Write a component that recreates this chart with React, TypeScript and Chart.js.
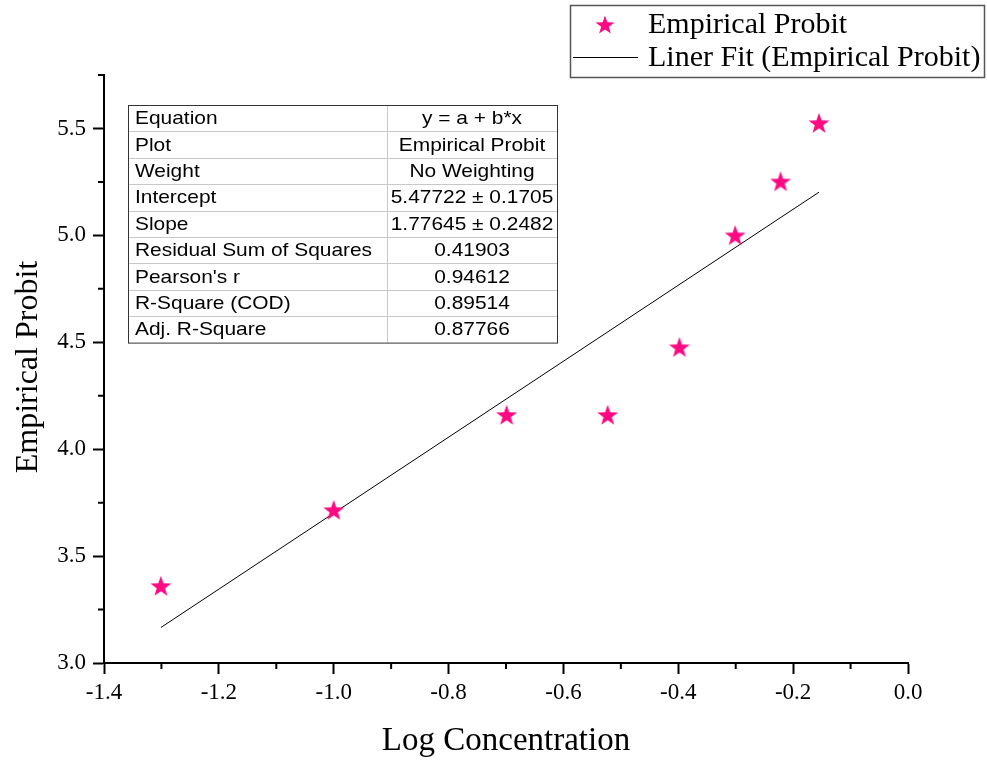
import React, { useEffect, useRef } from 'react';
import { Chart, registerables } from 'chart.js';

Chart.register(...registerables);

const logConcentration = [-1.301, -1.0, -0.699, -0.523, -0.398, -0.301, -0.222, -0.155];
const empiricalProbit = [3.36, 3.715, 4.16, 4.16, 4.477, 5.0, 5.252, 5.525];

const fitX = [-1.301, -0.155];
const fitY = [3.166, 5.202];

const xTicks = [-1.4, -1.2, -1.0, -0.8, -0.6, -0.4, -0.2, 0.0];
const yTicks = [3.0, 3.5, 4.0, 4.5, 5.0, 5.5];
const xMinorTicks = [-1.3, -1.1, -0.9, -0.7, -0.5, -0.3, -0.1];
const yMinorTicks = [3.25, 3.75, 4.25, 4.75, 5.25, 5.75];

const tableLabels = [
  'Equation',
  'Plot',
  'Weight',
  'Intercept',
  'Slope',
  'Residual Sum of Squares',
  "Pearson's r",
  'R-Square (COD)',
  'Adj. R-Square',
];
const tableValues = [
  'y = a + b*x',
  'Empirical Probit',
  'No Weighting',
  '5.47722 ± 0.1705',
  '1.77645 ± 0.2482',
  '0.41903',
  '0.94612',
  '0.89514',
  '0.87766',
];

const legendLabels = ['Empirical Probit', 'Liner Fit (Empirical Probit)'];
const xTitle = 'Log Concentration';
const yTitle = 'Empirical Probit';

const STAR_COLOR = '#FF0A82';
const SERIF = '"Liberation Serif", "Times New Roman", serif';
const SANS = '"Liberation Sans", Arial, sans-serif';

function drawStar(ctx: CanvasRenderingContext2D, cx: number, cy: number, ro: number, ri: number) {
  ctx.beginPath();
  for (let i = 0; i < 10; i++) {
    const r = i % 2 === 0 ? ro : ri;
    const a = -Math.PI / 2 + (i * Math.PI) / 5;
    const px = cx + r * Math.cos(a);
    const py = cy + r * Math.sin(a);
    if (i === 0) ctx.moveTo(px, py);
    else ctx.lineTo(px, py);
  }
  ctx.closePath();
  ctx.fillStyle = STAR_COLOR;
  ctx.fill();
}

function makeStarImage(): HTMLCanvasElement {
  const c = document.createElement('canvas');
  c.width = 24;
  c.height = 24;
  const ctx = c.getContext('2d')!;
  drawStar(ctx, 12, 12.8, 11, 4.4);
  return c;
}

function stretchedText(ctx: CanvasRenderingContext2D, text: string, x: number, y: number, sx: number) {
  ctx.save();
  ctx.translate(x, y);
  ctx.scale(sx, 1);
  ctx.fillText(text, 0, 0);
  ctx.restore();
}

const overlayPlugin = {
  id: 'overlay',
  afterDraw(chart: any) {
    const ctx: CanvasRenderingContext2D = chart.ctx;
    const xs = chart.scales.x;
    const ys = chart.scales.y;
    const area = chart.chartArea;
    ctx.save();

    // minor ticks
    ctx.strokeStyle = '#000';
    ctx.lineWidth = 2;
    ctx.beginPath();
    xMinorTicks.forEach((v) => {
      const px = xs.getPixelForValue(v);
      ctx.moveTo(px, area.bottom);
      ctx.lineTo(px, area.bottom + 6);
    });
    yMinorTicks.forEach((v) => {
      const py = ys.getPixelForValue(v);
      ctx.moveTo(area.left, py);
      ctx.lineTo(area.left - 6, py);
    });
    ctx.stroke();

    // axis titles
    ctx.fillStyle = '#000';
    ctx.font = `33px ${SERIF}`;
    ctx.textAlign = 'center';
    ctx.textBaseline = 'middle';
    ctx.fillText(xTitle, (area.left + area.right) / 2, 741);
    ctx.save();
    ctx.font = `32px ${SERIF}`;
    ctx.translate(29, 367);
    ctx.rotate(-Math.PI / 2);
    ctx.fillText(yTitle, 0, 0);
    ctx.restore();

    // table
    const tL = 128, tR = 557, tT = 105, rowH = 26.4, colX = 387;
    const tB = tT + rowH * tableLabels.length;
    ctx.fillStyle = '#fff';
    ctx.fillRect(tL, tT, tR - tL, tB - tT);
    ctx.lineWidth = 1;
    ctx.strokeStyle = '#c8c8c8';
    ctx.beginPath();
    for (let i = 1; i < tableLabels.length; i++) {
      const y = Math.round(tT + rowH * i) + 0.5;
      ctx.moveTo(tL, y);
      ctx.lineTo(tR, y);
    }
    ctx.moveTo(colX + 0.5, tT);
    ctx.lineTo(colX + 0.5, tB);
    ctx.stroke();
    ctx.strokeStyle = '#333';
    ctx.strokeRect(tL + 0.5, tT + 0.5, tR - tL, tB - tT);
    ctx.fillStyle = '#000';
    ctx.font = `18.5px ${SANS}`;
    ctx.textBaseline = 'middle';
    tableLabels.forEach((lab, i) => {
      const cy = tT + rowH * i + rowH / 2 + 1;
      ctx.textAlign = 'left';
      stretchedText(ctx, lab, 135, cy, 1.13);
      ctx.textAlign = 'center';
      stretchedText(ctx, tableValues[i], (colX + tR) / 2, cy, 1.13);
    });

    // legend
    ctx.strokeStyle = '#555';
    ctx.lineWidth = 1.5;
    ctx.strokeRect(570.5, 5.5, 414, 72);
    drawStar(ctx, 605, 25.5, 10, 4);
    ctx.strokeStyle = '#000';
    ctx.lineWidth = 1;
    ctx.beginPath();
    ctx.moveTo(573, 57.5);
    ctx.lineTo(638, 57.5);
    ctx.stroke();
    ctx.fillStyle = '#000';
    ctx.font = `30px ${SERIF}`;
    ctx.textAlign = 'left';
    ctx.textBaseline = 'middle';
    ctx.fillText(legendLabels[0], 648, 25);
    ctx.fillText(legendLabels[1], 648, 58);

    ctx.restore();
  },
};

export default function App() {
  const ref = useRef<HTMLCanvasElement | null>(null);

  useEffect(() => {
    document.body.style.margin = '0';
    const canvas = ref.current!;
    const starImg = makeStarImage();
    const chart = new Chart(canvas, {
      type: 'scatter',
      data: {
        datasets: [
          {
            label: legendLabels[0],
            data: logConcentration.map((x, i) => ({ x, y: empiricalProbit[i] })),
            pointStyle: starImg as any,
            pointRadius: 11,
            showLine: false,
            order: 0,
          },
          {
            label: legendLabels[1],
            data: fitX.map((x, i) => ({ x, y: fitY[i] })),
            showLine: true,
            borderColor: '#000',
            borderWidth: 1,
            pointRadius: 0,
            fill: false,
            order: 1,
          },
        ],
      },
      options: {
        responsive: false,
        animation: false,
        devicePixelRatio: 1,
        layout: { padding: { top: 75, right: 79, left: 0, bottom: 0 } },
        plugins: {
          legend: { display: false },
          tooltip: { enabled: false },
        },
        scales: {
          x: {
            type: 'linear',
            min: -1.4,
            max: 0,
            afterBuildTicks: (scale: any) => {
              scale.ticks = xTicks.map((v) => ({ value: v }));
            },
            afterFit: (scale: any) => {
              scale.height = 97;
            },
            border: { display: true, color: '#000', width: 2 },
            grid: {
              drawOnChartArea: false,
              drawTicks: true,
              tickLength: 11,
              tickWidth: 2,
              tickColor: '#000',
            },
            ticks: {
              color: '#000',
              padding: 5,
              font: { family: SERIF, size: 23 },
              callback: (v: any) => Number(v).toFixed(1),
            },
          },
          y: {
            type: 'linear',
            min: 3,
            max: 5.75,
            afterBuildTicks: (scale: any) => {
              scale.ticks = yTicks.map((v) => ({ value: v }));
            },
            afterFit: (scale: any) => {
              scale.width = 104;
            },
            border: { display: true, color: '#000', width: 2 },
            grid: {
              drawOnChartArea: false,
              drawTicks: true,
              tickLength: 11,
              tickWidth: 2,
              tickColor: '#000',
            },
            ticks: {
              color: '#000',
              padding: 7,
              font: { family: SERIF, size: 23 },
              callback: (v: any) => Number(v).toFixed(1),
            },
          },
        },
      },
      plugins: [overlayPlugin],
    } as any);
    return () => chart.destroy();
  }, []);

  return (
    <div style={{ position: 'absolute', left: 0, top: 0, width: 987, height: 760, background: '#fff' }}>
      <canvas ref={ref} width={987} height={760} style={{ display: 'block', width: 987, height: 760 }} />
    </div>
  );
}
